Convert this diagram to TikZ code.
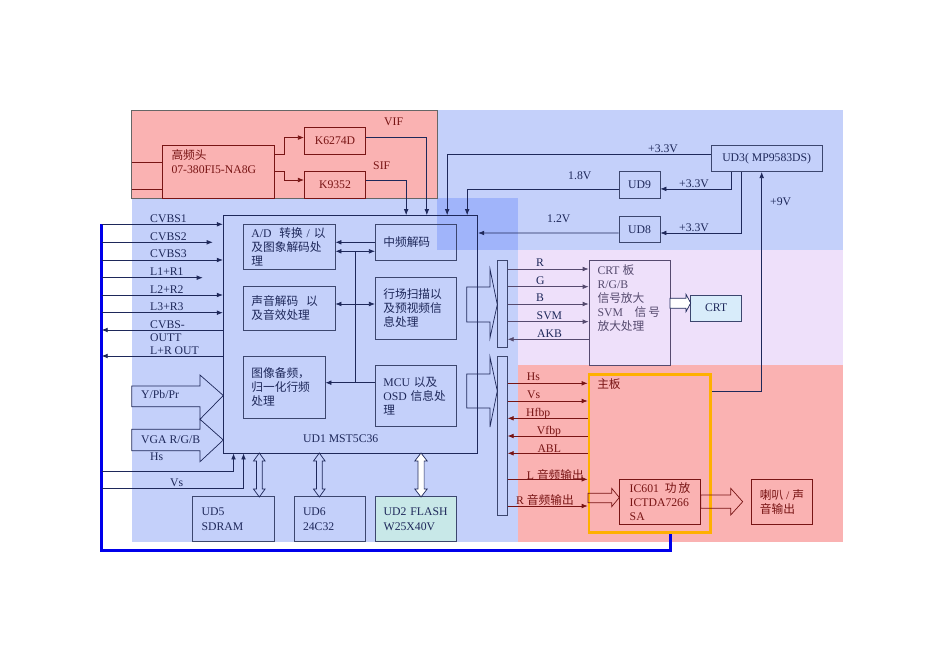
\documentclass[tikz,border=0pt]{standalone}
\usepackage{fontspec}
\setmainfont{Liberation Serif}
\newfontfamily\cjkf{Noto Sans CJK SC}
\usetikzlibrary{arrows.meta}
\definecolor{bgblue}{RGB}{196,208,250}
\definecolor{bgblue2}{RGB}{160,180,250}
\definecolor{bgpink}{RGB}{250,178,178}
\definecolor{bglav}{RGB}{238,224,250}
\definecolor{nv}{RGB}{30,40,90}
\definecolor{bx}{RGB}{60,70,110}
\definecolor{dr}{RGB}{120,20,20}
\definecolor{pu}{RGB}{85,74,110}
\definecolor{busblue}{RGB}{0,0,235}
\definecolor{orng}{RGB}{255,176,0}
\definecolor{flash}{RGB}{200,232,232}
\definecolor{crtfill}{RGB}{216,236,250}
\newcommand\figfont{\fontsize{10}{12}\selectfont}
% hollow double arrow from UD1 down to a memory chip
\newcommand\dblarr[3]{%
  \draw[hol,fill=#3] (#1,453) -- (#1+#2,461) -- (#1+#2/2,461) -- (#1+#2/2,489)
    -- (#1+#2,489) -- (#1,497) -- (#1-#2,489) -- (#1-#2/2,489)
    -- (#1-#2/2,461) -- (#1-#2,461) -- cycle;}
\tikzset{
  >={Latex[length=1.8mm,width=1.4mm]},
  sig/.style={draw=nv, line width=0.6pt},
  rsig/.style={draw=dr, line width=0.6pt},
  psig/.style={draw=pu, line width=0.6pt},
  hol/.style={draw=nv, line width=0.6pt},
  blk/.style={draw=bx, line width=0.6pt, rectangle, align=left, font=\figfont,
    text=nv, inner xsep=2.4mm, inner ysep=0.5mm},
  rblk/.style={blk, draw=dr, text=dr},
  sz/.style 2 args={minimum width=#1mm, minimum height=#2mm},
  lbl/.style={font=\figfont, text=nv, inner sep=0pt, anchor=base west},
  rlbl/.style={lbl, text=dr},
  cornertext/.style={anchor=north west, align=left, inner sep=0pt, font=\figfont},
  busline/.style={draw=busblue, line width=0.9mm, line join=miter},
}

\begin{document}
\begin{tikzpicture}[x=0.3mm, y=-0.3mm]
\useasboundingbox (0,0) rectangle (950,672);
%areas
  \fill[bgblue] (131.7,198.3) rectangle (518,541.7);
  \fill[bgblue] (437,110) rectangle (842.7,250);
  \fill[bgblue2] (437,198.3) rectangle (518,250);
  \fill[bglav] (518,250) rectangle (842.7,365);
  \fill[bgpink] (518,365) rectangle (842.7,541.7);
  \filldraw[fill=bgpink, draw=gray!80!black] (131.7,110) rectangle (437,198.3);
%tuner
  \node[rblk, sz={33.4}{15.8},
    label={[cornertext, text=dr, xshift=2.7mm, yshift=-1.3mm]north west:{{\cjkf 高频头}\\07-380FI5-NA8G}}] (hf) at (218.3,172) {};
  \node[rblk, sz={18.4}{7.9}] (k62) at (335,140.9) {K6274D};
  \node[rblk, sz={18.4}{7.9}] (k93) at (335,185) {K9352};
  \node[rlbl] (vif) at (384,125.5) {VIF};
  \node[rlbl] (sif) at (373,169.5) {SIF};
%main chip
  \node[blk, draw=nv, line width=0.8pt, sz={76.3}{71.2}] (ud1) at (350.5,334.3) {};
  \node[lbl, anchor=center] (ud1t) at (340.7,438.3) {UD1 MST5C36};
  \node[blk, sz={27.5}{13.4}, text width=22.7mm] (ad) at (289.2,246.7)
    {A/D\ \ {\cjkf 转换} / {\cjkf 以}\\{\cjkf 及图象解码处}\\{\cjkf 理}};
  \node[blk, sz={24.4}{10.7}, text width=19.6mm] (zp) at (416,242.2) {{\cjkf 中频解码}};
  \node[blk, sz={27.5}{13.2}, text width=22.7mm] (sy) at (289.2,308)
    {{\cjkf 声音解码}\ \ {\cjkf 以}\\{\cjkf 及音效处理}};
  \node[blk, sz={24.4}{18.5}, text width=19.6mm] (hc) at (416,308.2)
    {{\cjkf 行场扫描以}\\{\cjkf 及预视频信}\\{\cjkf 息处理}};
  \node[blk, sz={24.5}{18.7}, text width=19.7mm] (tx) at (284.2,387.2)
    {{\cjkf 图像备频，}\\{\cjkf 归一化行频}\\{\cjkf 处理}};
  \node[blk, sz={24.4}{18.5}, text width=19.6mm] (mcu) at (416,395.9)
    {MCU {\cjkf 以及}\\OSD {\cjkf 信息处}\\{\cjkf 理}};
%power
  \node[blk, sz={33.4}{7.8}] (ud3) at (766.7,158.7) {UD3( MP9583DS)};
  \node[blk, sz={12.3}{7.9}, inner xsep=1mm] (ud9) at (639.5,184.9) {UD9};
  \node[blk, sz={12.3}{8.0}, inner xsep=1mm] (ud8) at (639.5,229.3) {UD8};
  \node[lbl] (v33a) at (648,152) {+3.3V};
  \node[lbl] (v18) at (568,179) {1.8V};
  \node[lbl] (v33b) at (679,187) {+3.3V};
  \node[lbl] (v12) at (547,222) {1.2V};
  \node[lbl] (v33c) at (679,231) {+3.3V};
  \node[lbl] (v9) at (770,205) {+9V};
%memory
  \node[blk, sz={24.5}{13.5}, inner xsep=2.7mm, text width=19.1mm] (ud5) at (233.5,519.2) {UD5\\SDRAM};
  \node[blk, sz={21.4}{13.5}, inner xsep=2.6mm, text width=16.2mm] (ud6) at (330,519.2) {UD6\\24C32};
  \node[blk, fill=flash, sz={24.3}{13.5}, inner xsep=2.4mm, text width=19.5mm] (ud2) at (416.2,519.2) {UD2 FLASH\\W25X40V};
%output side
  \node[blk, fill=bgblue, sz={3}{26.3}, inner sep=0pt] (bar1) at (502.3,303.9) {};
  \node[blk, fill=bgblue, sz={3}{47.5}, inner sep=0pt] (bar2) at (502.3,435.9) {};
  \node[blk, draw=pu, sz={24.3}{31.5},
    label={[cornertext, text=pu, xshift=2.6mm, yshift=-1.5mm]north west:{CRT {\cjkf 板}\\R/G/B\\{\cjkf 信号放大}\\SVM\quad{\cjkf 信\,号}\\{\cjkf 放大处理}}}] (crtb) at (629.5,312.5) {};
  \node[blk, fill=crtfill, sz={15.3}{7.8}] (crt) at (716.2,308) {CRT};
  \node[rblk, draw=orng, line width=2.2pt, sz={36.5}{47.5},
    label={[cornertext, text=dr, xshift=2.8mm, yshift=-1.6mm]north west:{{\cjkf 主板}}}] (zb) at (649.8,453.5) {};
  \node[rblk, sz={24.4}{13.4}, inner xsep=2.2mm] (ic) at (660,501.7)
    {IC601\ \ {\cjkf 功\,放}\\ICTDA7266\\SA};
  \node[rblk, sz={18.2}{13.4}, inner xsep=2mm] (spk) at (782,501.7) {{\cjkf 喇叭} / {\cjkf 声}\\{\cjkf 音输出}};
%tuner lines
  \draw[rsig] (131.7,162.7) -- (hf.west |- 0,162.7);
  \draw[rsig] (131.7,189.3) -- (hf.west |- 0,189.3);
  \draw[rsig,->] (hf.east |- 0,154) -- (284,154) |- ([yshift=1mm]k62.west);
  \draw[rsig,->] (hf.east |- 0,171) -- (284,171) |- ([yshift=1.5mm]k93.west);
  \draw[sig,->] ([yshift=1.2mm]k62.east) -| ([xshift=22.9mm]ud1.north);
  \draw[sig,->] ([yshift=1.5mm]k93.east) -| ([xshift=16.7mm]ud1.north);
%power lines
  \draw[sig,->] ([yshift=1.4mm]ud3.west) -| ([xshift=29mm]ud1.north);
  \draw[sig,->] ([yshift=-1.2mm]ud9.west) -| ([xshift=35mm]ud1.north);
  \draw[sig,->] ([yshift=-1.1mm]ud8.west) -- (ud1.east |- 0,233);
  \draw[sig,->] ([xshift=-10.5mm]ud3.south) |- ([yshift=-1.2mm]ud9.east);
  \draw[sig,->] ([xshift=-7.5mm]ud3.south) |- ([yshift=-1.1mm]ud8.east);
  \draw[sig,->] ([yshift=18.5mm]zb.east) -| ([xshift=-1.5mm]ud3.south);
%inside UD1
  \draw[sig,->] (zp.west |- 0,242.3) -- (ad.east |- 0,242.3);
  \draw[sig,<->] (ad.east |- 0,251.3) -- (zp.west |- 0,251.3);
  \draw[sig,<->] (sy.east |- 0,304) -- (hc.west |- 0,304);
  \draw[sig] (355.7,251.3) -- (355.7,382.7);
  \draw[sig,->] (mcu.west |- 0,382.7) -- (tx.east |- 0,382.7);
%left inputs
  \draw[busline] (101.7,224.3) coordinate (cv1) -- (101.7,550) -| ([xshift=6.1mm]zb.south);
  \draw[sig,->] (cv1) -- (cv1 -| ud1.west);
  \draw[sig,->] (101.7,242.3) coordinate (cv2) -- (212.7,242.3);
  \draw[sig,->] (101.7,260) coordinate (cv3) -- (cv3 -| ud1.west);
  \draw[sig,->] (101.7,277.7) coordinate (lr1) -- (202.7,277.7);
  \draw[sig,->] (101.7,295) coordinate (lr2) -- (lr2 -| ud1.west);
  \draw[sig,->] (101.7,312.7) coordinate (lr3) -- (lr3 -| ud1.west);
  \draw[sig,->] (ud1.west |- 0,330) -- (101.7,330) coordinate (cvo);
  \draw[sig,->] (ud1.west |- 0,356) -- (101.7,356) coordinate (lro);
  \draw[sig,->] (101.7,471.7) coordinate (hs) -| ([xshift=3.2mm]ud1.south west);
  \draw[sig,->] (101.7,488.3) coordinate (vs) -| ([xshift=6.2mm]ud1.south west);
  \node[lbl] (t-cv1) at (150,222) {CVBS1};
  \node[lbl] (t-cv2) at (150,240) {CVBS2};
  \node[lbl] (t-cv3) at (150,257) {CVBS3};
  \node[lbl] (t-lr1) at (150,275) {L1+R1};
  \node[lbl] (t-lr2) at (150,293) {L2+R2};
  \node[lbl] (t-lr3) at (150,310.5) {L3+R3};
  \node[lbl] (t-cvo) at (150,328.5) {CVBS-};
  \node[lbl] (t-cvo2) at (150,341) {OUTT};
  \node[lbl] (t-lro) at (150,354.5) {L+R OUT};
  \node[lbl] (t-hs) at (150,460.5) {Hs};
  \node[lbl] (t-vs) at (170,486.5) {Vs};
%block arrows
  \draw[hol] (131.7,386) -- (200,386) -- (200,375) -- (223.3,395.5) -- (200,419.3) -- (200,406.7) -- (131.7,406.7) -- cycle;
  \draw[hol] (131.7,429.3) -- (200,429.3) -- (200,419.3) -- (223.3,440) -- (200,461.7) -- (200,450.7) -- (131.7,450.7) -- cycle;
  \node[lbl] (t-ypb) at (141,398) {Y/Pb/Pr};
  \node[lbl] (t-vga) at (141,443) {VGA R/G/B};
  \draw[hol] (466.7,287) -- (490,287) -- (490,269) -- (497.3,304.5) -- (490,338) -- (490,322) -- (466.7,322) -- cycle;
  \draw[hol] (466.7,374) -- (490,374) -- (490,357) -- (497.3,391) -- (490,427) -- (490,408) -- (466.7,408) -- cycle;
  \dblarr{259.3}{5.8}{none}
  \dblarr{319.3}{5.8}{none}
  \dblarr{421}{6.2}{white}
  \draw[hol, fill=white] (670,298.3) -- (686,298.3) -- (686,294.3) -- (690.7,303) -- (686,311.7) -- (686,308.3) -- (670,308.3) -- cycle;
  \draw[hol, draw=dr] (588,493.3) -- (611.7,493.3) -- (611.7,488.3) -- (619.3,497.5) -- (611.7,506.7) -- (611.7,502.7) -- (588,502.7) -- cycle;
  \draw[hol, draw=dr] (700.7,495) -- (730.7,495) -- (730.7,488.3) -- (742.7,501.7) -- (730.7,515) -- (730.7,508.3) -- (700.7,508.3) -- cycle;
%to CRT board
  \draw[psig,->] (bar1.east |- 0,269) -- (crtb.west |- 0,269);
  \draw[psig,->] (bar1.east |- 0,286.7) -- (crtb.west |- 0,286.7);
  \draw[psig,->] (bar1.east |- 0,304) -- (crtb.west |- 0,304);
  \draw[psig,->] (bar1.east |- 0,321.7) -- (crtb.west |- 0,321.7);
  \draw[psig,->] (crtb.west |- 0,339.3) -- (bar1.east |- 0,339.3);
  \node[lbl] (t-r) at (536,266) {R};
  \node[lbl] (t-g) at (536,284.5) {G};
  \node[lbl] (t-b) at (536,301.5) {B};
  \node[lbl] (t-svm) at (536.5,319.5) {SVM};
  \node[lbl] (t-akb) at (537,337) {AKB};
%to main board
  \draw[rsig,->] (bar2.east |- 0,383.3) -- (zb.west |- 0,383.3);
  \draw[rsig,->] (bar2.east |- 0,401) -- (zb.west |- 0,401);
  \draw[rsig,->] (zb.west |- 0,418.3) -- (bar2.east |- 0,418.3);
  \draw[rsig,->] (zb.west |- 0,436) -- (bar2.east |- 0,436);
  \draw[rsig,->] (zb.west |- 0,453.3) -- (bar2.east |- 0,453.3);
  \draw[rsig,->] (bar2.east |- 0,479.3) -- (zb.west |- 0,479.3);
  \draw[rsig,->] (bar2.east |- 0,506) -- (zb.west |- 0,506);
  \node[rlbl] (t-hs2) at (526.7,380.5) {Hs};
  \node[rlbl] (t-vs2) at (527,398) {Vs};
  \node[rlbl] (t-hf) at (526,416) {Hfbp};
  \node[rlbl] (t-vf) at (536.7,434) {Vfbp};
  \node[rlbl] (t-abl) at (537.3,452) {ABL};
  \node[rlbl] (t-l) at (526.7,479) {L {\cjkf 音频输出}};
  \node[rlbl] (t-rr) at (516,504.5) {R {\cjkf 音频输出}};
\end{tikzpicture}
\end{document}
